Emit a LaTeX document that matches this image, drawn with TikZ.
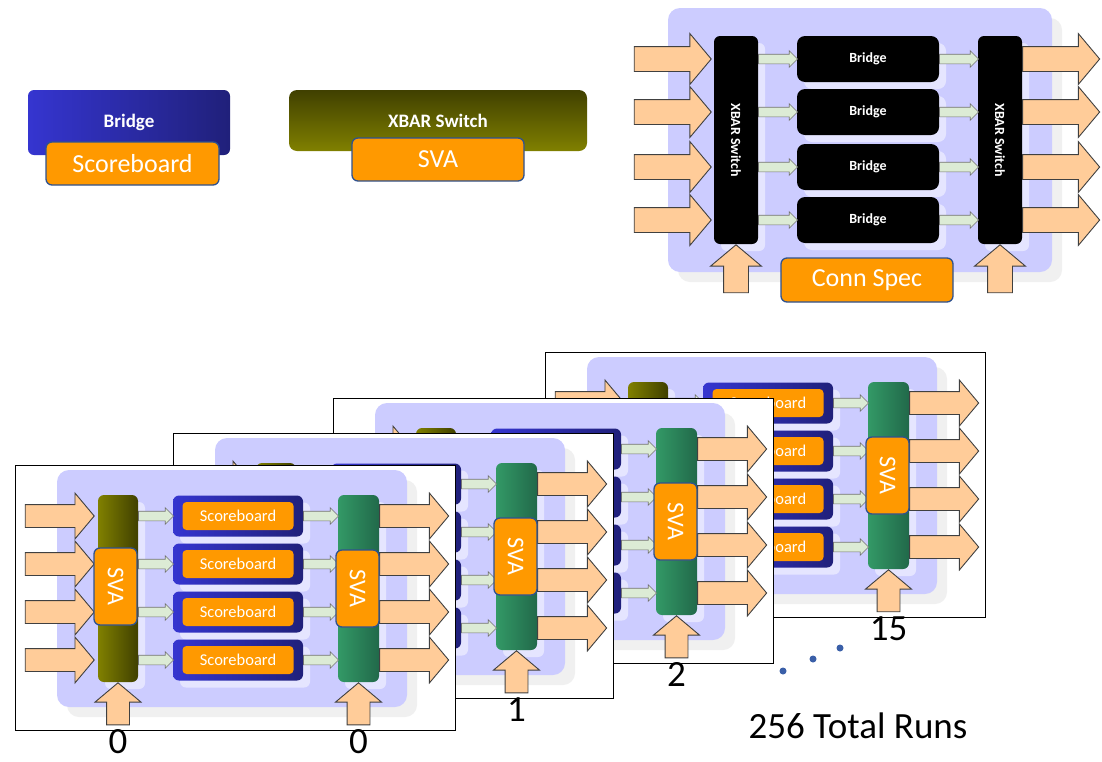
\documentclass[tikz,border=0pt]{standalone}
\usepackage{fontspec}
\setmainfont{Carlito}
\usetikzlibrary{shapes.arrows,positioning,calc,shadows}
\definecolor{lavender}{HTML}{CCCCFF}
\definecolor{peach}{HTML}{FFCC99}
\definecolor{mint}{HTML}{DCEBD5}
\definecolor{sborange}{HTML}{FF9900}
\definecolor{rimblue}{HTML}{2F528F}
\definecolor{dotblue}{HTML}{3A5FA8}
\definecolor{bluel}{HTML}{3535D0}
\definecolor{bluer}{HTML}{20207A}
\definecolor{olivel}{HTML}{808000}
\definecolor{oliver}{HTML}{404000}
\definecolor{seal}{HTML}{339966}
\definecolor{sear}{HTML}{21694A}
\tikzset{panel/.style={fill=lavender,rounded corners=12pt},panelshade/.style={fill=black!6,rounded corners=12pt},
soft/.style={drop shadow={shadow xshift=7pt,shadow yshift=-7pt,fill=white,opacity=.5}},
box/.style={inner sep=0pt,text=white,rounded corners=6pt},orangebox/.style={box,fill=sborange,draw=rimblue,line width=1.3pt},
runframe/.style={draw=black,line width=1.2pt,fill=white,inner sep=0pt,anchor=north west,minimum width=440pt,minimum height=265pt},
olivebar/.style={box,left color=olivel,right color=oliver,minimum width=40pt,minimum height=187pt},
greenbar/.style={box,left color=seal,right color=sear,minimum width=41pt,minimum height=187pt},
blackbar/.style={box,fill=black,minimum width=44pt,minimum height=208pt,font=\bfseries\fontsize{14}{14}\selectfont},
blueblock/.style={box,left color=bluel,right color=bluer,minimum width=130pt,minimum height=41pt},
bridgebox/.style={box,fill=black,rounded corners=8pt,minimum width=142pt,minimum height=46pt,font=\bfseries\fontsize{14}{14}\selectfont},
sbbox/.style={box,fill=sborange,rounded corners=4pt,minimum width=111pt,minimum height=28pt,font=\fontsize{16.5}{17}\selectfont},
svabox/.style={orangebox,minimum width=43pt,minimum height=77pt,font=\fontsize{24}{24}\selectfont},
bigarrow/.style={single arrow,draw=black!75,fill=peach,line width=.9pt,inner xsep=0pt,inner ysep=11pt,minimum width=45pt,minimum height=69pt,single arrow head extend=11.5pt,single arrow tip angle=100,single arrow head indent=0pt},
uparrow/.style={bigarrow,shape border rotate=90,inner xsep=11pt,inner ysep=0pt,minimum height=42pt},
widearrow/.style={bigarrow,inner ysep=12pt,minimum width=50pt,single arrow head extend=13pt,minimum height=77pt},
wideup/.style={widearrow,shape border rotate=90,inner xsep=12pt,inner ysep=0pt,minimum height=48pt},
minor/.style={single arrow,draw=black!55,fill=mint,line width=.6pt,inner xsep=0pt,inner ysep=4.5pt,minimum width=16pt,minimum height=35pt,single arrow head extend=3.5pt,single arrow head indent=0pt},
runlabel/.style={inner sep=0pt,font=\fontsize{37}{37}\selectfont}}
\begin{document}
\begin{tikzpicture}[x=1pt,y=-1pt]
\useasboundingbox (0,0) rectangle (1102,761);
\fill[white] (0,0) rectangle (1102,761);
\node[box,left color=bluel,right color=bluer,minimum width=202pt,minimum height=65pt,font=\bfseries\fontsize{19}{19}\selectfont] (legbridge) at (129,122.5) {Bridge};
\node[orangebox,minimum width=173pt,minimum height=43pt,font=\fontsize{26}{26}\selectfont] (legsb) at (132.5,163.5) {Scoreboard};
\node[box,rounded corners=8pt,top color=oliver,bottom color=olivel,minimum width=298pt,minimum height=61pt,font=\bfseries\fontsize{19}{19}\selectfont] (legxbar) at (438,120.5) {XBAR Switch};
\node[orangebox,minimum width=172pt,minimum height=43pt,font=\fontsize{26}{26}\selectfont] (legsva) at (438,159.5) {SVA};
\fill[panelshade] (678,18) rectangle (1062,282);
\fill[panel] (668,8) rectangle (1052,272);
\node[blackbar,soft] (xl) at (736,140) {\rotatebox{-90}{XBAR Switch}};
\node[blackbar,soft] (xr) at (1000,140) {\rotatebox{-90}{XBAR Switch}};
\foreach \k/\y in {1/59,2/112,3/167,4/220}{
\node[bridgebox,soft] (br\k) at (868,\y) {Bridge};
\node[minor,anchor=tail,minimum height=39pt] (bin\k) at (xl.east |- br\k) {};
\node[minor,anchor=tail,minimum height=39pt] (bout\k) at (br\k.east) {};
\node[widearrow,anchor=tip,xshift=-2pt] (pin\k) at (xl.west |- br\k) {};
\node[widearrow,anchor=tail] (pout\k) at (xr.east |- br\k) {};}
\node[wideup,anchor=tip] (upl) at (xl.south) {};
\node[wideup,anchor=tip] (upr) at (xr.south) {};
\node[orangebox,minimum width=172pt,minimum height=44pt,font=\fontsize{26}{26}\selectfont] (conn) at (867,280) {Conn Spec};
\foreach \n/\ox/\oy in {15/545/352,2/333/398,1/173/433,0/15/465}{
\begin{scope}[shift={(\ox,\oy)}]
\node[runframe] (f\n) at (0,0) {};
\fill[panelshade] (52,15) rectangle (402,252);
\fill[panel] (42,5) rectangle (392,242);
\node[olivebar,soft] (f\n-xin) at (103,123.5) {};
\node[greenbar,soft] (f\n-xout) at (343.5,123.5) {};
\foreach \k/\y in {1/51,2/99,3/147,4/195}{
\node[blueblock,soft] (f\n-bb\k) at (223,\y) {};
\node[sbbox] (f\n-sb\k) at (f\n-bb\k) {Scoreboard};
\node[minor,anchor=tail] (f\n-gin\k) at (f\n-xin.east |- f\n-bb\k) {};
\node[minor,anchor=tail] (f\n-gout\k) at (f\n-bb\k.east) {};
\node[bigarrow,anchor=tip,xshift=-3pt] (f\n-in\k) at (f\n-xin.west |- f\n-bb\k) {};
\node[bigarrow,anchor=tail] (f\n-out\k) at (f\n-xout.east |- f\n-bb\k) {};}
\node[svabox] (f\n-sva1) at (100.5,121.5) {\rotatebox{-90}{SVA}};
\node[svabox] (f\n-sva2) at (342.5,123.5) {\rotatebox{-90}{SVA}};
\node[uparrow,anchor=tip] (f\n-upl) at (f\n-xin.south) {};
\node[uparrow,anchor=tip] (f\n-upr) at (f\n-xout.south) {};
\node[runlabel,anchor=base] (f\n-num) at ($(f\n-xout.south)+(0,71)$) {\n};
\ifnum\n=0 \node[runlabel,anchor=base] (f\n-numl) at ($(f\n-xin.south)+(0,71)$) {\n};\fi
\end{scope}}
\foreach \d/\x/\y in {1/783/671,2/813/659,3/840/648}
\node[circle,fill=dotblue,inner sep=0pt,minimum size=7pt] (dot\d) at (\x,\y) {};
\node[runlabel,anchor=base] (total) at (858,738) {256 Total Runs};
\end{tikzpicture}
\end{document}
